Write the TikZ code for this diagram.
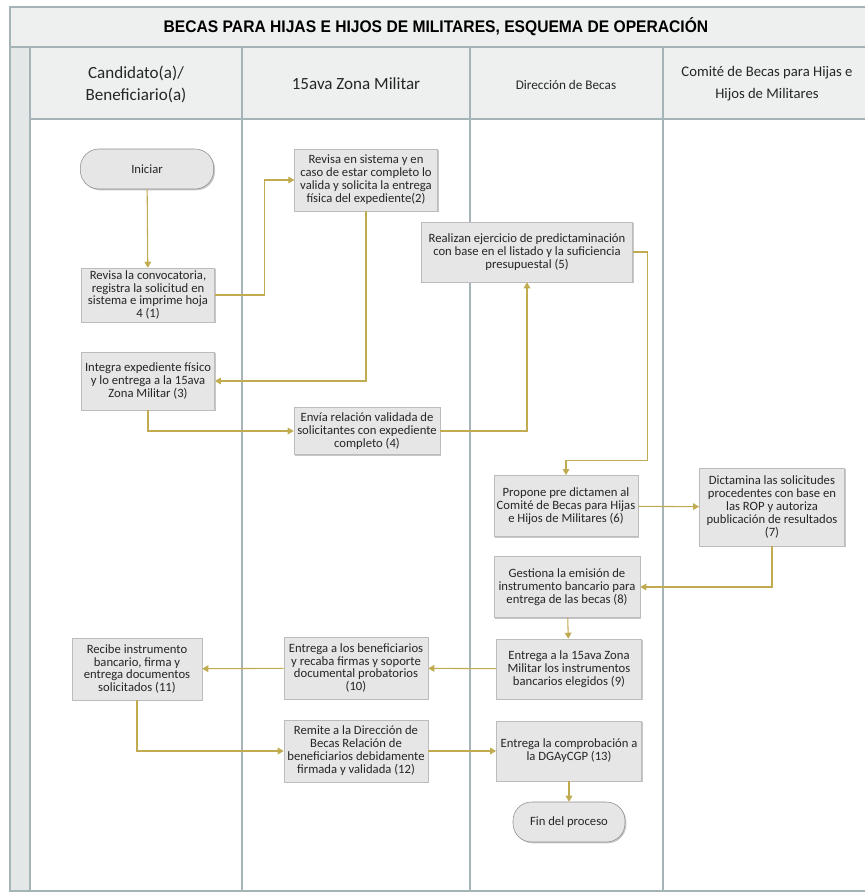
\documentclass[tikz,border=0pt]{standalone}
\usepackage{fontspec}
\setmainfont{Carlito}
\newfontfamily\titlefont[FakeStretch=0.93]{Liberation Sans}
\usetikzlibrary{arrows.meta,shadows}

\definecolor{laneline}{RGB}{165,180,182}
\definecolor{bandfill}{RGB}{238,239,239}
\definecolor{stripfill}{RGB}{228,231,231}
\definecolor{boxfill}{RGB}{230,230,230}
\definecolor{boxline}{RGB}{188,188,188}
\definecolor{arrowgold}{RGB}{192,171,80}

\tikzset{
  box/.style={draw=boxline, fill=boxfill, align=center, text=black!85,
    font=\fontsize{9.5}{9.7}\selectfont, inner sep=1pt,
    drop shadow={shadow xshift=1pt, shadow yshift=-1pt, fill=black, opacity=0.22}},
  term/.style={box, draw=black!45, rounded corners=14pt},
  hdr/.style={align=center, text=black!85},
  flowline/.style={draw=arrowgold, line width=0.8pt, -{Triangle[width=5pt,length=4.5pt]}}
}

\begin{document}
\begin{tikzpicture}[x=0.75pt,y=-0.75pt]
  \useasboundingbox (0,0) rectangle (865,894);
  % lanes
  \fill[bandfill] (10,7) rectangle (865,47);
  \fill[bandfill] (30,47) rectangle (865,119);
  \fill[stripfill] (10,47) rectangle (30,891);
  \draw[laneline,line width=0.8pt] (865,7) -- (10,7) -- (10,891) -- (865,891);
  \draw[laneline,line width=0.8pt] (10,47) -- (865,47) (30,119) -- (865,119) (30,47) -- (30,891);
  \foreach \x in {242,470,663}
    \draw[laneline,line width=0.8pt] (\x,47) -- (\x,891);

  \node[font=\titlefont\bfseries\fontsize{12.6}{14}\selectfont] (title) at (436,27)
    {BECAS PARA HIJAS E HIJOS DE MILITARES, ESQUEMA DE OPERACIÓN};
  \node[hdr, font=\fontsize{12.8}{16.5}\selectfont] (hcand) at (136,84) {Candidato(a)/\\Beneficiario(a)};
  \node[hdr, font=\fontsize{12.8}{14}\selectfont] (hzona) at (356,84) {15ava Zona Militar};
  \node[hdr, font=\fontsize{9.9}{14}\selectfont] (hdir) at (566,85) {Dirección de Becas};
  \node[hdr, font=\fontsize{11}{16.5}\selectfont] (hcom) at (767,84) {Comité de Becas para Hijas e\\Hijos de Militares};

  % steps
  \node[term, minimum width=100pt, minimum height=30pt] (ini) at (147,169) {Iniciar};
  \node[box, minimum width=100pt, minimum height=40.5pt] (s1) at (148,295)
    {Revisa la convocatoria,\\registra la solicitud en\\sistema e imprime hoja\\4 (1)};
  \node[box, minimum width=107pt, minimum height=46.5pt] (s2) at (366,180)
    {Revisa en sistema y en\\caso de estar completo lo\\valida y solicita la entrega\\física del expediente(2)};
  \node[box, minimum width=100pt, minimum height=43.5pt] (s3) at (148,381)
    {Integra expediente físico\\y lo entrega a la 15ava\\Zona Militar (3)};
  \node[box, minimum width=109.5pt, minimum height=35pt] (s4) at (367,431)
    {Envía relación validada de\\solicitantes con expediente\\completo (4)};
  \node[box, minimum width=158pt, minimum height=45pt] (s5) at (527,252)
    {Realizan ejercicio de predictaminación\\con base en el listado y la suficiencia\\presupuestal (5)};
  \node[box, minimum width=108pt, minimum height=46pt] (s6) at (566,506)
    {Propone pre dictamen al\\Comité de Becas para Hijas\\e Hijos de Militares (6)};
  \node[box, minimum width=109pt, minimum height=58.5pt] (s7) at (772,507)
    {Dictamina las solicitudes\\procedentes con base en\\las ROP y autoriza\\publicación de resultados\\(7)};
  \node[box, minimum width=109.5pt, minimum height=46pt] (s8) at (567,587)
    {Gestiona la emisión de\\instrumento bancario para\\entrega de las becas (8)};
  \node[box, minimum width=109pt, minimum height=45pt] (s9) at (569,669)
    {Entrega a la 15ava Zona\\Militar los instrumentos\\bancarios elegidos (9)};
  \node[box, minimum width=108pt, minimum height=46.5pt] (s10) at (356,668)
    {Entrega a los beneficiarios\\y recaba firmas y soporte\\documental probatorios\\(10)};
  \node[box, minimum width=97.5pt, minimum height=46.5pt] (s11) at (137,669)
    {Recibe instrumento\\bancario, firma y\\entrega documentos\\solicitados (11)};
  \node[box, minimum width=108pt, minimum height=46.5pt] (s12) at (356,751)
    {Remite a la Dirección de\\Becas Relación de\\beneficiarios debidamente\\firmada y validada (12)};
  \node[box, minimum width=109pt, minimum height=45pt] (s13) at (569,751)
    {Entrega la comprobación a\\la DGAyCGP (13)};
  \node[term, minimum width=84pt, minimum height=30pt] (fin) at (569,822) {Fin del proceso};

  % connectors
  \draw[flowline] (ini) -- (s1);
  \draw[flowline] (s1.east) -- ++(50,0) |- (s2.west);
  \draw[flowline] (s2.south) |- (s3.east);
  \draw[flowline] (s3.south) |- (s4.west);
  \draw[flowline] (s4.east) -| (s5.south);
  \draw[flowline] (s5.east) -- ++(15,0) |- ([yshift=11pt]s6.north) -- (s6.north);
  \draw[flowline] (s6) -- (s7);
  \draw[flowline] (s7.south) |- (s8.east);
  \draw[flowline] (s8) -- (s9);
  \draw[flowline] (s9) -- (s10);
  \draw[flowline] (s10) -- (s11);
  \draw[flowline] (s11.south) |- (s12.west);
  \draw[flowline] (s12) -- (s13);
  \draw[flowline] (s13) -- (fin);
\end{tikzpicture}
\end{document}
